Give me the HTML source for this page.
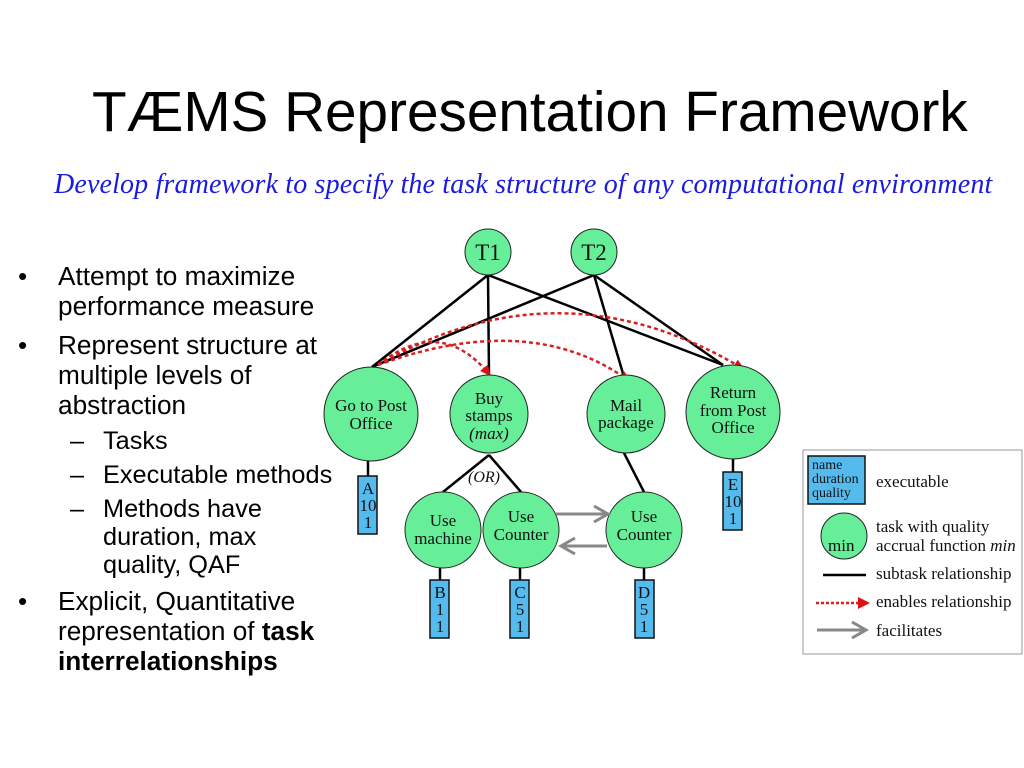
<!DOCTYPE html>
<html><head><meta charset="utf-8"><style>
body{margin:0;width:1024px;height:768px;background:#fff;position:relative;overflow:hidden;font-family:"Liberation Sans",sans-serif}
.t{position:absolute;left:92px;top:80px;font-size:56.7px;color:#000;white-space:nowrap}
.sub{position:absolute;left:54px;top:169px;font-family:"Liberation Serif",serif;font-style:italic;font-size:28px;color:#1a1ae0;white-space:nowrap;letter-spacing:0.15px}
.b{position:absolute;font-size:26.2px;line-height:30px;color:#000;white-space:nowrap}
.b2{position:absolute;font-size:25.3px;line-height:28px;color:#000;white-space:nowrap}
</style></head><body>
<div class="t">TÆMS Representation Framework</div>
<div class="sub">Develop framework to specify the task structure of any computational environment</div>
<div class="b" style="left:18px;top:261px">•</div>
<div class="b" style="left:58px;top:261px">Attempt to maximize<br>performance measure</div>
<div class="b" style="left:18px;top:330px">•</div>
<div class="b" style="left:58px;top:330px">Represent structure at<br>multiple levels of<br>abstraction</div>
<div class="b2" style="left:70px;top:427px">–</div><div class="b2" style="left:103px;top:427px">Tasks</div>
<div class="b2" style="left:70px;top:461px">–</div><div class="b2" style="left:103px;top:461px">Executable methods</div>
<div class="b2" style="left:70px;top:495px">–</div><div class="b2" style="left:103px;top:495px">Methods have<br>duration, max<br>quality, QAF</div>
<div class="b" style="left:18px;top:586px">•</div>
<div class="b" style="left:58px;top:586px">Explicit, Quantitative<br>representation of <b>task<br>interrelationships</b></div>
<svg width="1024" height="768" style="position:absolute;left:0;top:0" font-family="Liberation Serif,serif">
<defs><marker id="r" markerWidth="12" markerHeight="12" refX="8" refY="5" orient="auto" markerUnits="userSpaceOnUse"><path d="M0,0L11,5L0,10z" fill="#e01010"/></marker></defs>
<g stroke="#000" stroke-width="2.5">
<line x1="488" y1="275" x2="372" y2="367"/><line x1="488" y1="275" x2="489" y2="376"/><line x1="488" y1="275" x2="723" y2="365"/>
<line x1="594" y1="275" x2="372" y2="367"/><line x1="594" y1="275" x2="624" y2="377"/><line x1="594" y1="275" x2="723" y2="365"/>
<line x1="489" y1="455" x2="443" y2="492"/><line x1="489" y1="455" x2="521" y2="492"/><line x1="624" y1="453" x2="644" y2="492"/>
<line x1="368" y1="461" x2="368" y2="476"/><line x1="733" y1="459" x2="733" y2="472"/>
<line x1="440" y1="568" x2="440" y2="580"/><line x1="520" y1="568" x2="520" y2="580"/><line x1="644" y1="568" x2="644" y2="580"/>
</g>
<g fill="none" stroke="#d82020" stroke-width="2.5" stroke-dasharray="4,3">
<path d="M378,365 Q440,315 489,374" marker-end="url(#r)"/>
<path d="M378,365 Q530,310 628,380" marker-end="url(#r)"/>
<path d="M378,365 Q560,260 742,368" marker-end="url(#r)"/>
</g>
<g fill="#66ee99" stroke="#222" stroke-width="1">
<circle cx="488" cy="252" r="23"/><circle cx="594" cy="252" r="23"/>
<circle cx="371" cy="414" r="47"/><circle cx="489" cy="414" r="39"/><circle cx="626" cy="414" r="39"/><circle cx="733" cy="412" r="47"/>
<circle cx="443" cy="530" r="38"/><circle cx="521" cy="530" r="38"/><circle cx="644" cy="530" r="38"/>
</g>
<g stroke="#888" stroke-width="3" fill="none">
<line x1="556" y1="514" x2="608" y2="514"/><path d="M594,506L608,514L594,522"/>
<line x1="607" y1="546" x2="561" y2="546"/><path d="M575,538L561,546L575,554"/>
</g>
<g fill="#55bbee" stroke="#111" stroke-width="1.5">
<rect x="358" y="476" width="19" height="58"/><rect x="723" y="472" width="19" height="58"/>
<rect x="430" y="580" width="19" height="58"/><rect x="510" y="580" width="19" height="58"/><rect x="635" y="580" width="19" height="58"/>
</g>
<g font-size="17" text-anchor="middle" fill="#111">
<text x="488" y="260" font-size="23">T1</text><text x="594" y="260" font-size="23">T2</text>
<text x="371" y="411">Go to Post</text><text x="371" y="429">Office</text>
<text x="489" y="404">Buy</text><text x="489" y="421">stamps</text><text x="489" y="439" font-style="italic">(max)</text>
<text x="626" y="411">Mail</text><text x="626" y="428">package</text>
<text x="733" y="398">Return</text><text x="733" y="416">from  Post</text><text x="733" y="433">Office</text>
<text x="443" y="526">Use</text><text x="443" y="544">machine</text>
<text x="521" y="522">Use</text><text x="521" y="540">Counter</text>
<text x="644" y="522">Use</text><text x="644" y="540">Counter</text>
<text x="484" y="482" font-style="italic" font-size="16">(OR)</text>
<text x="368" y="494">A</text><text x="368" y="511">10</text><text x="368" y="528">1</text>
<text x="733" y="490">E</text><text x="733" y="507">10</text><text x="733" y="524">1</text>
<text x="440" y="598">B</text><text x="440" y="615">1</text><text x="440" y="632">1</text>
<text x="520" y="598">C</text><text x="520" y="615">5</text><text x="520" y="632">1</text>
<text x="644" y="598">D</text><text x="644" y="615">5</text><text x="644" y="632">1</text>
</g>
<rect x="803" y="450" width="219" height="204" fill="#fff" stroke="#999"/>
<rect x="808" y="456" width="57" height="48" fill="#55bbee" stroke="#111" stroke-width="1.5"/>
<g font-size="14" fill="#111"><text x="812" y="469">name</text><text x="812" y="483">duration</text><text x="812" y="497">quality</text></g>
<circle cx="844" cy="536" r="23" fill="#66ee99" stroke="#222"/>
<g font-size="17" fill="#111">
<text x="828" y="551">min</text>
<text x="876" y="487">executable</text>
<text x="876" y="532">task with quality</text>
<text x="876" y="551">accrual function <tspan font-style="italic">min</tspan></text>
<text x="876" y="579">subtask relationship</text>
<text x="876" y="607">enables relationship</text>
<text x="876" y="636">facilitates</text>
</g>
<line x1="823" y1="575" x2="866" y2="575" stroke="#000" stroke-width="2.5"/>
<line x1="816" y1="603" x2="860" y2="603" stroke="#d82020" stroke-width="2.5" stroke-dasharray="3,2"/>
<path d="M858,597L870,603L858,609z" fill="#e01010"/>
<line x1="817" y1="630" x2="866" y2="630" stroke="#888" stroke-width="3"/>
<path d="M852,622L866,630L852,638" fill="none" stroke="#888" stroke-width="3"/>
</svg>
</body></html>
